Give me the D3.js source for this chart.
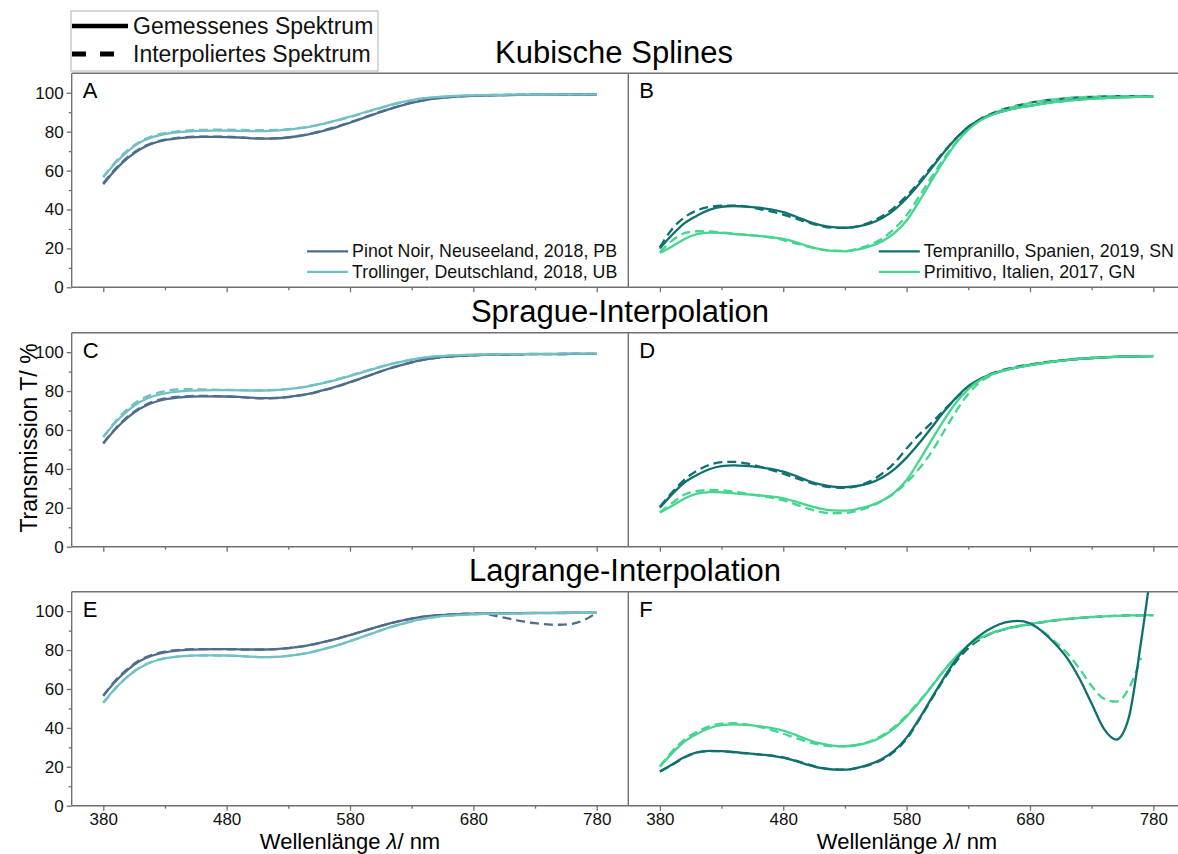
<!DOCTYPE html>
<html>
<head>
<meta charset="utf-8">
<script src="https://cdn.jsdelivr.net/npm/d3@7"></script>
<style>
  body { margin: 0; background: #fff; }
  svg { font-family: "Liberation Sans", Arial, sans-serif; }
</style>
</head>
<body>
<div id="chart"></div>
<script>
// wavelength grid (nm)
var wavelengths = [380,390,400,410,420,430,440,450,460,470,480,490,500,510,520,530,540,550,560,570,
                   580,590,600,610,620,630,640,650,660,670,680,690,700,710,720,730,740,750,760,770,780];

// measured spectra (T / %)
var pinotMeasured = [53,60.5,66.5,71,74,75.7,76.6,77.1,77.3,77.3,77.2,77,76.6,76.4,76.5,77,77.9,79.1,80.7,82.5,
                     84.6,86.8,89,91.2,93.1,94.8,96.1,97.1,97.7,98.1,98.4,98.6,98.7,98.8,98.9,99,99,99,99.1,99.1,99.1];
var trollMeasured = [56.5,64,70,74.5,77.2,78.8,79.7,80.2,80.4,80.5,80.5,80.4,80.3,80.3,80.5,81,81.8,82.9,84.3,85.9,
                     87.7,89.6,91.5,93.3,94.9,96.2,97.2,97.8,98.2,98.5,98.7,98.8,98.9,99,99,99.1,99.1,99.2,99.2,99.2,99.2];
var tempMeasured  = [20,27,33,36.8,39.8,41.4,41.8,41.5,40.9,40,38.6,36.4,33.9,32,30.9,30.6,31.2,32.7,35.5,39.8,
                     45.8,53,61,69.2,76.5,82.5,86.3,89,90.8,92.2,93.3,94.4,95.3,96,96.5,97,97.3,97.6,97.8,97.9,98];
var primMeasured  = [17.6,21,24.8,27.3,28.1,28,27.4,26.9,26.4,25.8,24.9,23.2,21.2,19.6,18.7,18.5,19.4,21,23.6,27.8,
                     34.3,44,54.5,64.8,74,81,85.8,88.8,90.8,92.2,93.3,94.3,95.2,95.9,96.5,96.9,97.3,97.6,97.8,97.9,98];

// cubic spline interpolation
var pinotSpline = [53.5,61,67,71.4,74.2,75.9,76.8,77.3,77.5,77.5,77.4,77.1,76.7,76.5,76.6,77.1,78,79.3,80.9,82.7,
                   84.8,87,89.2,91.3,93.2,94.9,96.2,97.2,97.8,98.2,98.5,98.7,98.8,98.9,99,99,99.1,99.1,99.1,99.1,99.1];
var trollSpline = [56.8,64.5,70.6,75,77.7,79.3,80.2,80.7,80.9,81,81,80.9,80.8,80.8,80.9,81.3,82,83,84.3,85.8,
                   87.5,89.4,91.3,93.1,94.7,96,97,97.7,98.1,98.4,98.6,98.8,98.9,99,99,99.1,99.1,99.2,99.2,99.2,99.2];
var tempSpline  = [20.5,30,36,39.5,41.3,42,42,41.5,40.3,39,37.4,35.4,33.3,31.6,30.6,30.5,31.3,33.3,36.5,41,
                   47,54,61.8,69.6,76.6,82.4,86.6,89.6,91.8,93.5,94.8,95.8,96.6,97.2,97.6,97.9,98.1,98.2,98.2,98.2,98.1];
var primSpline  = [18,24,27.8,28.8,28.7,28.2,27.6,27,26.4,25.6,24.3,22.6,20.9,19.5,18.8,18.7,19.8,21.8,25,30,
                   37,46.5,56.5,66,74.5,81.2,86,89.3,91.6,93.3,94.7,95.8,96.6,97.2,97.6,97.9,98.1,98.2,98.2,98.2,98.1];

// Sprague interpolation
var pinotSprague = [53.2,60.8,67,71.5,74.5,76.2,77,77.4,77.5,77.4,77.2,76.9,76.5,76.3,76.4,76.9,77.8,79,80.6,82.4,
                    84.5,86.7,89,91.2,93.1,94.8,96.1,97.1,97.7,98.1,98.4,98.6,98.7,98.8,98.9,99,99,99,99.1,99.1,99.1];
var trollSprague = [56.3,64.5,71,75.6,78.3,80,80.8,81,80.9,80.7,80.6,80.5,80.4,80.4,80.6,81.1,81.9,83,84.5,86.2,
                    88,89.9,91.7,93.4,94.9,96.2,97.2,97.8,98.2,98.5,98.7,98.8,98.9,99,99,99.1,99.1,99.2,99.2,99.2,99.2];
var tempSprague  = [20.5,28,34.5,39,42,43.5,43.6,42.8,41.3,39.5,37.5,35.3,33.2,31.5,30.5,30.3,31.2,33.5,37.5,43,
                    50.5,57.5,63.5,70,76.3,82,86.2,89.2,91.2,92.6,93.6,94.6,95.4,96,96.6,97,97.3,97.6,97.8,97.9,98];
var primSprague  = [17.6,22.5,26.8,28.6,29.2,29,28.3,27.3,26.3,25.2,23.8,21.8,19.6,17.9,17.2,17.3,18.5,20.5,23.5,27.5,
                    33,40,48.5,59,69.5,78.5,84.8,88.5,90.8,92.3,93.4,94.4,95.2,95.9,96.5,96.9,97.3,97.6,97.8,97.9,98];

// Lagrange interpolation (tempLagrange stops at 770 nm)
var pinotLagrange = [52.8,60.3,66.6,71.2,74.2,75.8,76.6,77,77.2,77.2,77.1,76.9,76.6,76.4,76.5,77,77.9,79.1,80.7,82.5,
                     84.6,86.8,89,91.2,93.1,94.8,96.1,97.1,97.7,98.1,98.4,98.6,98.7,98.8,98.9,99,99,99,99.1,99.1,99.1];
var trollLagrange = [56.5,64.5,70.5,75,77.6,79.2,80,80.4,80.5,80.5,80.4,80.3,80.2,80.3,80.5,81,81.8,82.9,84.3,85.9,
                     87.7,89.6,91.5,93.3,94.9,96.2,97.2,97.8,98.3,98.6,98.8,98.5,97.3,96,94.8,93.8,93.2,93,93.5,95.5,99.2];
var tempLagrange  = [20.3,28,34,38,40.8,42.2,42.4,41.8,40.6,39,37,34.8,32.8,31.3,30.5,30.5,31.3,33,36,40.5,
                     46.5,53.5,61.2,69.3,76.5,82.4,86.3,89,90.9,92.4,93,89.8,84.5,78.5,70.5,61.5,55,53.5,60,76];
var primLagrange  = [17.5,21.2,25,27.4,28.2,28.1,27.6,27,26.4,25.7,24.7,23,21,19.4,18.6,18.5,19.5,21.2,24,28.3,
                     35,44.5,55,65.5,75,82.5,87.8,91.7,94.2,95,93.8,89.5,83.5,76,65.5,52.5,39.5,34,45,84,130];

// axis ticks and texts
var xMajorTicks = [380,480,580,680,780];
var xMinorTicks = [430,530,630,730];
var yMajorTicks = [0,20,40,60,80,100];
var yMinorTicks = [10,30,50,70,90];
var rowTitles = ["Kubische Splines", "Sprague-Interpolation", "Lagrange-Interpolation"];
var panelLetters = ["A","B","C","D","E","F"];
var legendLeft = ["Pinot Noir, Neuseeland, 2018, PB", "Trollinger, Deutschland, 2018, UB"];
var legendRight = ["Tempranillo, Spanien, 2019, SN", "Primitivo, Italien, 2017, GN"];
var styleLegend = ["Gemessenes Spektrum", "Interpoliertes Spektrum"];

// colours
var cPinot = "#4f6d8a", cTroll = "#72c0c3", cTemp = "#10706d", cPrim = "#44d58e";
var frameColor = "#707070";

var W = 1178, H = 854;
var svg = d3.select("#chart").append("svg").attr("width", W).attr("height", H);

var colX = [[71.7, 628.3], [628.3, 1184.9]];
var rowZero = [287.3, 546.7, 805.7];
var rowH = 214;

// series per panel (dashed drawn first, solid on top)
var panelSeries = [
  [{d: pinotSpline, c: cPinot, dash: true}, {d: trollSpline, c: cTroll, dash: true},
   {d: pinotMeasured, c: cPinot}, {d: trollMeasured, c: cTroll}],
  [{d: tempSpline, c: cTemp, dash: true}, {d: primSpline, c: cPrim, dash: true},
   {d: tempMeasured, c: cTemp}, {d: primMeasured, c: cPrim}],
  [{d: pinotSprague, c: cPinot, dash: true}, {d: trollSprague, c: cTroll, dash: true},
   {d: pinotMeasured, c: cPinot}, {d: trollMeasured, c: cTroll}],
  [{d: tempSprague, c: cTemp, dash: true}, {d: primSprague, c: cPrim, dash: true},
   {d: tempMeasured, c: cTemp}, {d: primMeasured, c: cPrim}],
  [{d: trollLagrange, c: cPinot, dash: true}, {d: pinotLagrange, c: cTroll, dash: true},
   {d: trollMeasured, c: cPinot}, {d: pinotMeasured, c: cTroll}],
  [{d: tempLagrange, c: cPrim, dash: true}, {d: primMeasured, c: cTemp, dash: true},
   {d: tempMeasured, c: cPrim}, {d: primLagrange, c: cTemp}]
];

var defs = svg.append("defs");

for (var r = 0; r < 3; r++) {
  var y0 = rowZero[r], yTop = y0 - rowH;

  // row title
  svg.append("text")
    .attr("x", [614, 620, 625][r]).attr("y", yTop - 10.5)
    .attr("text-anchor", "middle")
    .style("font-size", "31px").attr("fill", "#000")
    .text(rowTitles[r]);

  for (var c = 0; c < 2; c++) {
    var idx = r * 2 + c;
    var x = d3.scaleLinear().domain([354.4, 805.6]).range(colX[c]);
    var y = d3.scaleLinear().domain([0, 110]).range([y0, yTop]);

    var clipId = "clip" + idx;
    defs.append("clipPath").attr("id", clipId).append("rect")
      .attr("x", colX[c][0]).attr("y", yTop)
      .attr("width", colX[c][1] - colX[c][0]).attr("height", rowH);

    var line = d3.line()
      .x(function(d, i) { return x(wavelengths[i]); })
      .y(function(d) { return y(d); })
      .curve(d3.curveMonotoneX);

    var g = svg.append("g").attr("clip-path", "url(#" + clipId + ")");
    panelSeries[idx].forEach(function(s) {
      g.append("path")
        .attr("d", line(s.d))
        .attr("fill", "none")
        .attr("stroke", s.c)
        .attr("stroke-width", 2.3)
        .attr("stroke-dasharray", s.dash ? "9,5" : null);
    });

    // x axis: major + minor ticks
    svg.append("g").attr("transform", "translate(0," + y0 + ")")
      .call(d3.axisBottom(x).tickValues(xMajorTicks).tickSize(5).tickPadding(2.5)
        .tickFormat(r == 2 ? d3.format("d") : ""));
    svg.append("g").attr("transform", "translate(0," + y0 + ")")
      .call(d3.axisBottom(x).tickValues(xMinorTicks).tickSize(3).tickFormat(""));

    // y axis on left column only
    if (c == 0) {
      svg.append("g").attr("transform", "translate(" + colX[0][0] + ",0)")
        .call(d3.axisLeft(y).tickValues(yMajorTicks).tickSize(5).tickPadding(3));
      svg.append("g").attr("transform", "translate(" + colX[0][0] + ",0)")
        .call(d3.axisLeft(y).tickValues(yMinorTicks).tickSize(3).tickFormat(""));
    }

    // panel letter
    svg.append("text")
      .attr("x", colX[c][0] + 11).attr("y", yTop + 25)
      .style("font-size", "22px").attr("fill", "#000")
      .text(panelLetters[idx]);

    // sample legends in the first row
    if (r == 0) {
      var names = c == 0 ? legendLeft : legendRight;
      var cols = c == 0 ? [cPinot, cTroll] : [cTemp, cPrim];
      var lg = svg.append("g");
      var texts = lg.selectAll("text").data(names).enter().append("text")
        .attr("y", function(d, i) { return y0 - 30.3 + i * 20.5; })
        .style("font-size", "17.8px").attr("fill", "#111")
        .text(function(d) { return d; });
      var maxW = d3.max(texts.nodes(), function(n) { return n.getComputedTextLength(); });
      var tx = colX[c][1] - 11 - maxW;
      texts.attr("x", tx);
      lg.selectAll("line").data(names).enter().append("line")
        .attr("x1", tx - 45).attr("x2", tx - 4)
        .attr("y1", function(d, i) { return y0 - 36 + i * 20.5; })
        .attr("y2", function(d, i) { return y0 - 36 + i * 20.5; })
        .attr("stroke", function(d, i) { return cols[i]; })
        .attr("stroke-width", 2.3);
    }
  }

  // frame for the row
  var fr = svg.append("g").attr("stroke", frameColor).attr("stroke-width", 1.4).attr("fill", "none");
  fr.append("line").attr("x1", colX[0][0]).attr("x2", colX[1][1]).attr("y1", yTop).attr("y2", yTop);
  fr.append("line").attr("x1", colX[0][0]).attr("x2", colX[1][1]).attr("y1", y0).attr("y2", y0);
  fr.append("line").attr("x1", colX[0][0]).attr("x2", colX[0][0]).attr("y1", yTop).attr("y2", y0);
  fr.append("line").attr("x1", colX[0][1]).attr("x2", colX[0][1]).attr("y1", yTop).attr("y2", y0);
  fr.append("line").attr("x1", colX[1][1]).attr("x2", colX[1][1]).attr("y1", yTop).attr("y2", y0);
}

// axis styling
svg.selectAll(".domain").remove();
svg.selectAll(".tick line").attr("stroke", frameColor).attr("stroke-width", 1.3);
svg.selectAll(".tick text").style("font-size", "17px").style("font-family", "'Liberation Sans', Arial, sans-serif").attr("fill", "#111");

// axis titles
[350, 907].forEach(function(cx) {
  var t = svg.append("text").attr("x", cx).attr("y", 849)
    .attr("text-anchor", "middle").style("font-size", "22px").attr("fill", "#000");
  t.append("tspan").text("Wellenlänge ");
  t.append("tspan").style("font-style", "italic").text("λ");
  t.append("tspan").text("/ nm");
});
svg.append("text")
  .attr("transform", "translate(37,438) rotate(-90)")
  .attr("text-anchor", "middle").style("font-size", "23px").attr("fill", "#000")
  .text("Transmission T/ %");

// line style legend (top left)
var sl = svg.append("g");
sl.append("rect").attr("x", 71).attr("y", 11).attr("width", 307).attr("height", 60)
  .attr("fill", "#fff").attr("stroke", "#b0b0b0").attr("stroke-width", 1);
sl.append("line").attr("x1", 72).attr("x2", 128).attr("y1", 26).attr("y2", 26)
  .attr("stroke", "#000").attr("stroke-width", 4.5);
sl.append("line").attr("x1", 72).attr("x2", 116).attr("y1", 54).attr("y2", 54)
  .attr("stroke", "#000").attr("stroke-width", 5).attr("stroke-dasharray", "14,14");
sl.selectAll("text").data(styleLegend).enter().append("text")
  .attr("x", 133).attr("y", function(d, i) { return 34 + i * 28; })
  .style("font-size", "23px").attr("fill", "#111")
  .text(function(d) { return d; });
</script>
</body>
</html>
